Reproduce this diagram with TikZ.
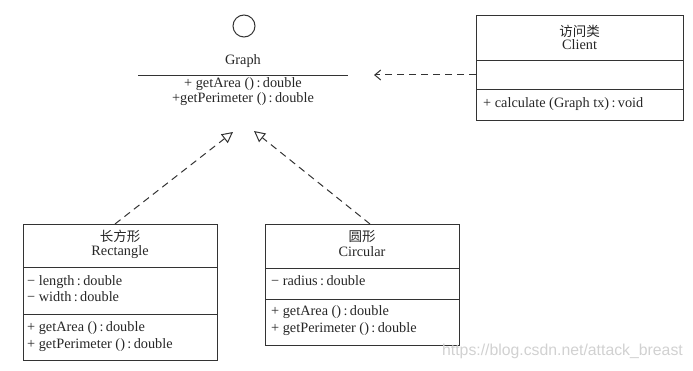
\documentclass[tikz,border=0pt]{standalone}
\usepackage{fontspec}
\setmainfont{Liberation Serif}
\newfontfamily\cjk{Noto Sans CJK SC}
\newfontfamily\wmfont{Liberation Sans}
\usetikzlibrary{arrows.meta}
\begin{document}
\begin{tikzpicture}[x=1pt,y=-1pt,
  box/.style={draw=black!80, line width=1pt, rectangle, inner sep=0, anchor=north west},
  sep/.style={draw=black!80, line width=1pt},
  txt/.style={font=\fontsize{14.3}{16}\selectfont, text=black!85, inner sep=0, anchor=mid},
  ltxt/.style={txt, anchor=mid west},
  cjktxt/.style={font=\cjk\fontsize{13.5}{15}\selectfont, text=black!85, inner sep=0, anchor=center},
  dep/.style={draw=black!80, line width=1pt, dash pattern=on 7pt off 5pt, -{Straight Barb[length=6pt,width=10pt]}},
  real/.style={draw=black!80, line width=1pt, dash pattern=on 7pt off 5pt, -{Triangle[open,length=11pt,width=11pt]}}
]
\useasboundingbox (0,0) rectangle (693,371);
% Graph interface
\node[draw=black!80, line width=1pt, circle, minimum size=22pt, inner sep=0] (lolly) at (244,26) {};
\node[txt] (gname) at (243,62) {Graph};
\draw[sep] (138,76) -- (348,76);
\node[txt] (g1) at (243,85) {+ getArea ()\,:\,double};
\node[txt] (g2) at (243,100) {+getPerimeter ()\,:\,double};
\coordinate (gtipL) at (233,132);
\coordinate (gtipR) at (254,131);
\coordinate (gtipC) at (374,75);
% Client
\node[box, minimum width=207pt, minimum height=105pt] (client) at (476,15) {};
\draw[sep] (476,61) -- (683,61);
\draw[sep] (476,90) -- (683,90);
\node[cjktxt] (c0) at (579.5,31) {访问类};
\node[txt] (c1) at (579.5,47) {Client};
\node[ltxt] (c2) at (483,105) {+ calculate (Graph tx)\,:\,void};
% Rectangle
\node[box, minimum width=194pt, minimum height=136pt] (rect) at (23,224) {};
\draw[sep] (23,268) -- (217,268);
\draw[sep] (23,314) -- (217,314);
\node[cjktxt] (r0) at (120,236) {长方形};
\node[txt] (r1) at (120,253) {Rectangle};
\node[ltxt] (r2) at (27,283) {− length\,:\,double};
\node[ltxt] (r3) at (27,299) {− width\,:\,double};
\node[ltxt] (r4) at (27,329) {+ getArea ()\,:\,double};
\node[ltxt] (r5) at (27,346) {+ getPerimeter ()\,:\,double};
% Circular
\node[box, minimum width=194pt, minimum height=121pt] (circ) at (265,224) {};
\draw[sep] (265,269) -- (459,269);
\draw[sep] (265,299) -- (459,299);
\node[cjktxt] (k0) at (362,237) {圆形};
\node[txt] (k1) at (362,254) {Circular};
\node[ltxt] (k2) at (271,283) {− radius\,:\,double};
\node[ltxt] (k3) at (271,313) {+ getArea ()\,:\,double};
\node[ltxt] (k4) at (271,330) {+ getPerimeter ()\,:\,double};
% connectors
\draw[dep] (client.west |- 0,75) -- (gtipC);
\draw[real] (rect.north west) ++(92,0) coordinate (rs) -- (gtipL);
\draw[real] (circ.north west) ++(105,0) coordinate (cs) -- (gtipR);
% watermark
\node[font=\wmfont\fontsize{15.8}{17}\selectfont, text=black!18, inner sep=0, anchor=mid east] (wm) at (683,353) {https://blog.csdn.net/attack\_breast};
\end{tikzpicture}
\end{document}
